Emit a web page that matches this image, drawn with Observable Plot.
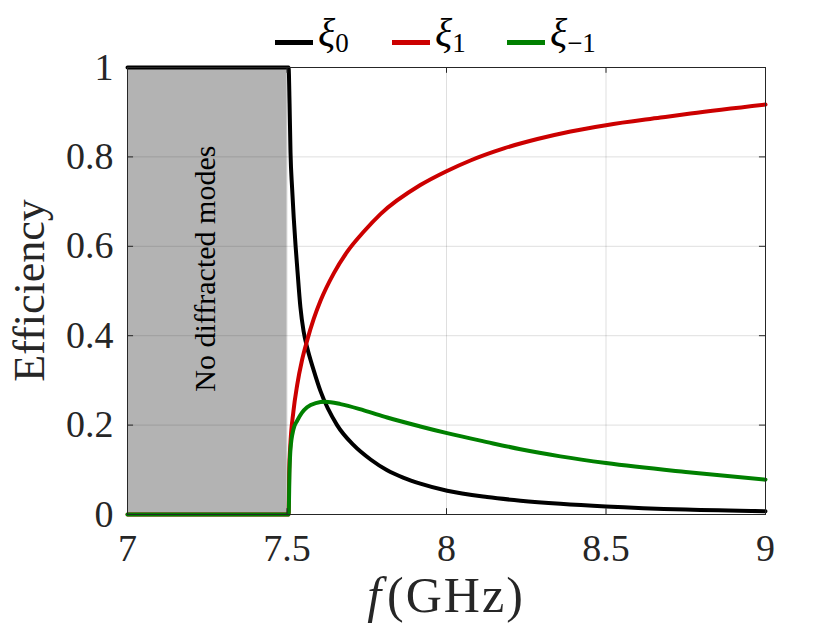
<!DOCTYPE html>
<html><head><meta charset="utf-8">
<script src="https://cdn.jsdelivr.net/npm/d3@7"></script>
<script src="https://cdn.jsdelivr.net/npm/@observablehq/plot@0.6"></script>
<style>
body{margin:0;background:#fff;}
#wrap{width:830px;height:640px;position:relative;font-family:'Liberation Serif','DejaVu Serif',serif;background:#fff;overflow:hidden;}
#legend{height:30px;position:relative;z-index:2;}
.item{position:absolute;top:13px;white-space:nowrap;line-height:40px;}
.sw{display:inline-block;width:38px;height:5px;margin-right:5px;vertical-align:middle;}
.lab{font-family:'Liberation Serif','DejaVu Serif',serif;font-size:40px;font-style:italic;color:#000;}
.lab sub{font-family:'Liberation Serif','DejaVu Serif',serif;font-style:normal;font-size:27px;vertical-align:-6px;}
#chart svg{overflow:visible;}
</style></head>
<body><div id="wrap"><div id="legend"></div><div id="chart"></div></div>
<script>
// ---- data ----
const xTicks = [7, 7.5, 8, 8.5, 9];
const xTickLabels = ["7", "7.5", "8", "8.5", "9"];
const yTicks = [0, 0.2, 0.4, 0.6, 0.8, 1];
const yTickLabels = ["0", "0.2", "0.4", "0.6", "0.8", "1"];

// xi_0 (black)
const f0 = [7, 7.5, 7.505, 7.508, 7.511, 7.516, 7.521, 7.527, 7.532, 7.542, 7.552, 7.563, 7.584, 7.605, 7.657, 7.709, 7.762, 7.814, 7.866, 7.918, 8.002, 8.127, 8.232, 8.357, 8.5, 8.75, 9];
const v0 = [1, 1, 1, 0.92, 0.81, 0.73, 0.665, 0.6, 0.553, 0.464, 0.41, 0.374, 0.322, 0.276, 0.2, 0.155, 0.123, 0.099, 0.082, 0.069, 0.053, 0.039, 0.031, 0.024, 0.018, 0.011, 0.0074];
// xi_1 (red)
const f1 = [7, 7.505, 7.507, 7.51, 7.52, 7.532, 7.547, 7.563, 7.584, 7.605, 7.647, 7.689, 7.741, 7.793, 7.918, 8.0, 8.075, 8.18, 8.285, 8.389, 8.5, 8.671, 8.765, 9];
const v1 = [0, 0, 0.1, 0.15, 0.23, 0.29, 0.345, 0.389, 0.438, 0.478, 0.54, 0.588, 0.633, 0.672, 0.737, 0.768, 0.792, 0.819, 0.84, 0.857, 0.871, 0.888, 0.897, 0.917];
// xi_-1 (green)
const fm1 = [7, 7.505, 7.508, 7.511, 7.52, 7.532, 7.547, 7.563, 7.59, 7.62, 7.668, 7.741, 7.814, 7.918, 8.002, 8.127, 8.232, 8.357, 8.5, 8.75, 9];
const vm1 = [0, 0, 0.1, 0.147, 0.19, 0.21, 0.228, 0.24, 0.249, 0.252, 0.247, 0.233, 0.217, 0.197, 0.182, 0.162, 0.146, 0.13, 0.115, 0.095, 0.078];

const seriesSubs = ["0", "1", "−1"];
const seriesColors = ["#000000", "#cc0000", "#008000"];

// cut-off region
const cutoffStart = 7, cutoffEnd = 7.5;
const regionLabel = "No diffracted modes";

// ---- build ----
const toRows = (fs, vs) => fs.map((f, i) => ({f, v: vs[i]}));
const rows0 = toRows(f0, v0), rows1 = toRows(f1, v1), rowsm1 = toRows(fm1, vm1);
const xTickRows = xTicks.map((t, i) => ({t, label: xTickLabels[i]}));
const yTickRows = yTicks.map((t, i) => ({t, label: yTickLabels[i]}));

// legend (HTML, above the svg)
const legendLefts = [275, 392, 507];
const leg = document.getElementById("legend");
seriesSubs.forEach((s, i) => {
  const d = document.createElement("div");
  d.className = "item";
  d.style.left = legendLefts[i] + "px";
  d.innerHTML = `<span class="sw" style="background:${seriesColors[i]}"></span><span class="lab">ξ<sub>${s}</sub></span>`;
  leg.appendChild(d);
});

const ink = "#262626";
const serif = "Liberation Serif";
const chart = Plot.plot({
  width: 830, height: 610,
  marginTop: 37, marginBottom: 126, marginLeft: 127, marginRight: 65,
  x: {domain: [7, 9], axis: null},
  y: {domain: [0, 1], axis: null},
  style: {fontFamily: serif, background: "transparent", color: ink},
  marks: [
    Plot.rect([{x1: cutoffStart, x2: cutoffEnd}], {x1: "x1", x2: "x2", y1: 0, y2: 1, fill: "#b3b3b3"}),
    Plot.gridX(xTicks.slice(1, -1), {stroke: ink, strokeOpacity: 0.15, strokeWidth: 1}),
    Plot.gridY(yTicks.slice(1, -1), {stroke: ink, strokeOpacity: 0.15, strokeWidth: 1}),
    Plot.text([regionLabel], {x: (cutoffStart + cutoffEnd) / 2 - 0.005, y: 0.55, rotate: -90, fontSize: 30, fontFamily: serif, fill: "#000", text: d => d}),
    Plot.line(rows0, {x: "f", y: "v", stroke: seriesColors[0], strokeWidth: 4, curve: "monotone-x"}),
    Plot.line(rows1, {x: "f", y: "v", stroke: seriesColors[1], strokeWidth: 4, curve: "monotone-x"}),
    Plot.line(rowsm1, {x: "f", y: "v", stroke: seriesColors[2], strokeWidth: 4, curve: "monotone-x"}),
    Plot.frame({stroke: ink, strokeWidth: 1}),
    // inward ticks on all four sides
    Plot.ruleX(xTicks, {y1: 0, y2: 0.013, stroke: ink}),
    Plot.ruleX(xTicks, {y1: 1 - 0.013, y2: 1, stroke: ink}),
    Plot.ruleY(yTicks, {x1: 7, x2: 7.019, stroke: ink}),
    Plot.ruleY(yTicks, {x1: 9 - 0.019, x2: 9, stroke: ink}),
    // tick labels
    Plot.text(xTickRows, {x: "t", y: 0, text: "label", dy: 34, lineAnchor: "middle", fontSize: 38, fontFamily: serif, fill: ink}),
    Plot.text(yTickRows, {x: 7, y: "t", text: "label", dx: -14, textAnchor: "end", lineAnchor: "middle", fontSize: 38, fontFamily: serif, fill: ink})
  ]
});
document.getElementById("chart").appendChild(chart);

// axis titles with mixed italic
const svg = d3.select(chart);
const xs = chart.scale("x"), ys = chart.scale("y");
const xl = svg.append("text")
  .attr("x", xs.apply(8)).attr("y", 582)
  .attr("text-anchor", "middle")
  .style("font-size", "50px").style("font-family", serif).attr("fill", ink);
xl.append("tspan").style("font-style", "italic").text("f");
xl.append("tspan").attr("dx", 6).style("letter-spacing", "2px").text("(GHz)");

svg.append("text")
  .attr("transform", `translate(44,${ys.apply(0.5)}) rotate(-90)`)
  .attr("text-anchor", "middle")
  .style("font-size", "44px").style("font-family", serif).attr("fill", ink)
  .text("Efficiency");
</script></body></html>
